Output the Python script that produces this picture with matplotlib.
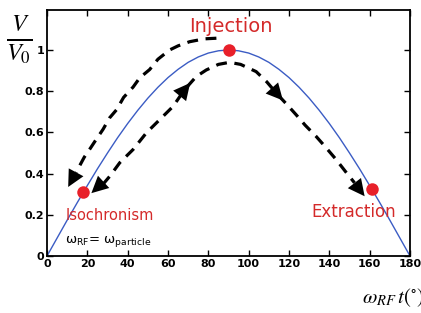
import matplotlib
matplotlib.use("Agg")
import matplotlib.pyplot as plt

plt.rcParams['mathtext.fontset'] = 'stix'

# Main curve V/V0 vs phase (degrees)
phase = [0, 5, 10, 15, 20, 25, 30, 35, 40, 45, 50, 55, 60, 65, 70, 75, 80, 85, 90,
         95, 100, 105, 110, 115, 120, 125, 130, 135, 140, 145, 150, 155, 160, 165, 170, 175, 180]
voltage = [0.000, 0.087, 0.174, 0.259, 0.342, 0.423, 0.500, 0.574, 0.643, 0.707, 0.766,
           0.819, 0.866, 0.906, 0.940, 0.966, 0.985, 0.996, 1.000,
           0.996, 0.985, 0.966, 0.940, 0.906, 0.866, 0.819, 0.766, 0.707, 0.643,
           0.574, 0.500, 0.423, 0.342, 0.259, 0.174, 0.087, 0.000]

# Marked points
pt_x = [18, 90, 161]
pt_y = [0.309, 1.000, 0.326]
pt_labels = ["Isochronism", "Injection", "Extraction"]

# Outer dashed arc (Injection -> Isochronism)
outer_x = [84, 78, 70.7, 65, 60.8, 55, 50.9, 46, 42.7, 38, 34.5, 31, 27.8, 24, 21.3, 18.5, 16.3, 14.5]
outer_y = [1.057, 1.054, 1.04, 1.02, 1.00, 0.955, 0.905, 0.865, 0.82, 0.77, 0.71, 0.67, 0.615, 0.56, 0.52, 0.48, 0.44, 0.405]
outer_tip = (10.5, 0.335)

# Inner dashed arc (Isochronism -> Injection -> Extraction)
inner_x = [27.5, 31.2, 36.1, 42.7, 49.3, 55.9, 62.5, 68.2, 74, 79, 85, 90.5, 96, 103.7, 109, 114.4,
           119, 123.5, 128, 133.4, 138, 143.3, 148, 152.5]
inner_y = [0.345, 0.388, 0.453, 0.517, 0.598, 0.662, 0.726, 0.807, 0.871, 0.903, 0.93, 0.94, 0.93, 0.895,
           0.845, 0.783, 0.735, 0.686, 0.635, 0.581, 0.53, 0.469, 0.41, 0.355]
inner_start_tip = (22.0, 0.305)
inner_end_tip = (157.5, 0.29)

fig = plt.figure(figsize=(4.21, 3.13), dpi=100)
ax = fig.add_axes([47/421, 1-256/313, (410-47)/421, (256-10)/313])

ax.plot(phase, voltage, color='#3b5cc4', lw=1.0, zorder=2)

dash = (0, (3.4, 2.4))
ax.plot(outer_x, outer_y, color='black', lw=2.3, linestyle=dash, dash_capstyle='butt', zorder=3)
ax.plot(inner_x, inner_y, color='black', lw=2.3, linestyle=dash, dash_capstyle='butt', zorder=3)

head = dict(arrowstyle='-|>,head_length=0.8,head_width=0.4', color='black', lw=0,
            mutation_scale=15, shrinkA=0, shrinkB=0)

def arrow(tip, frm):
    ax.annotate('', xy=tip, xytext=frm, arrowprops=head, zorder=4)

# Outer end
arrow(outer_tip, (outer_x[-3], outer_y[-3]))
# Inner start (points to the left, toward Isochronism)
arrow(inner_start_tip, (inner_x[1], inner_y[1]))
# Inner mid (upwards)
arrow((71.0, 0.84), (66.0, 0.78))
# Inner right mid (downwards)
arrow((117.0, 0.755), (112.0, 0.81))
# Inner end
arrow(inner_end_tip, (inner_x[-2], inner_y[-2]))

ax.plot(pt_x, pt_y, 'o', color='#e8202a', ms=9, mec='none', zorder=5)

red = '#d42a2a'
ax.text(91, 1.115, pt_labels[1], color=red, fontsize=14, ha='center', va='center', zorder=6)
ax.text(9, 0.195, pt_labels[0], color=red, fontsize=10.5, ha='left', va='center', zorder=6)
ax.text(131, 0.215, pt_labels[2], color=red, fontsize=12, ha='left', va='center', zorder=6)
ax.text(9, 0.07, r'$\mathregular{\omega_{RF}}$= $\mathregular{\omega_{particle}}$',
        color='black', fontsize=9.5, ha='left', va='center', zorder=6)

ax.set_xlim(0, 180)
ax.set_ylim(0, 1.194)
ax.set_xticks(range(0, 181, 20))
ax.set_yticks([0, 0.2, 0.4, 0.6, 0.8, 1])
ax.set_yticklabels(['0', '0.2', '0.4', '0.6', '0.8', '1'])
ax.tick_params(direction='in', top=True, right=True, length=4, width=1, labelsize=8, pad=2)
for lab in ax.get_xticklabels() + ax.get_yticklabels():
    lab.set_fontweight('bold')
for sp in ax.spines.values():
    sp.set_linewidth(1.3)

fig.text(19/421, 1-40/313, r'$\frac{V}{V_0}$', fontsize=25, ha='center', va='center')
fig.text(393/421, 1-298/313, r'$\omega_{RF}\,t\left(^{\circ}\right)$', fontsize=15, ha='center', va='center')

fig.savefig('out.png', dpi=100)
